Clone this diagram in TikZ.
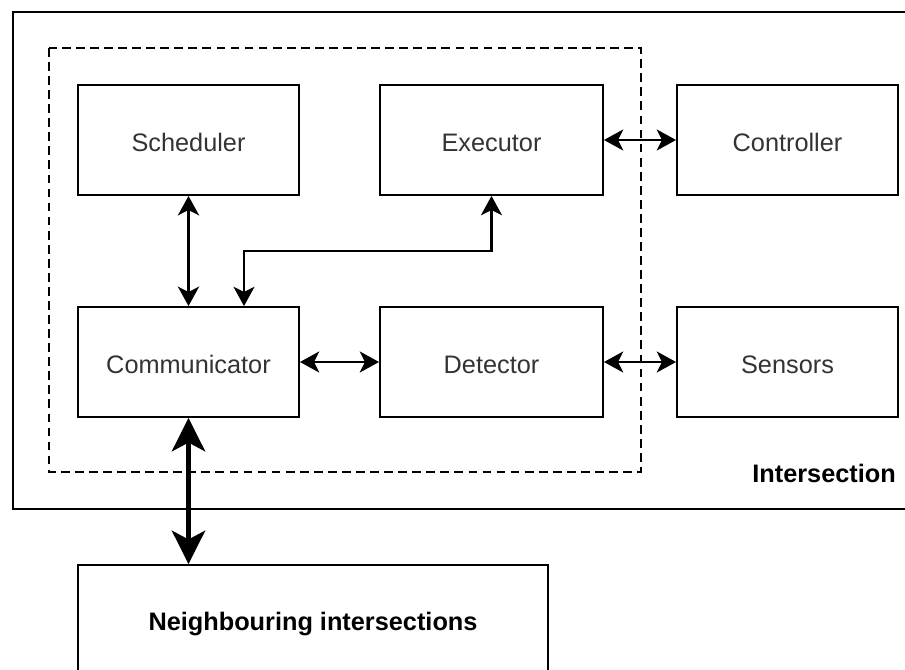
\documentclass[tikz,border=0pt]{standalone}
\usepackage{fontspec}
\setmainfont{Liberation Sans}
\usepackage{tikz}
\usetikzlibrary{shapes,arrows.meta,positioning,calc}

\begin{document}
\begin{tikzpicture}[
    block/.style={draw, line width=1.1pt, minimum width=4.42cm, minimum height=2.2cm,
        text height=13.2pt, text depth=0pt, text=black!80, font=\fontsize{14.4}{17}\selectfont},
    biarrow/.style={line width=1.2pt, {Stealth[length=11pt,width=12pt,inset=3pt]}-{Stealth[length=11pt,width=12pt,inset=3pt]}},
    bigarrow/.style={line width=2.4pt, {Stealth[length=19pt,width=19pt,inset=5pt]}-{Stealth[length=19pt,width=19pt,inset=5pt]}}
]
    \useasboundingbox (0,0) rectangle (18.1,-13.4);
    \clip (0,0) rectangle (18.1,-13.4);

    % Intersection (outer box, runs off the right edge)
    \draw[line width=1.3pt] (0.26,-0.24) rectangle (18.8,-10.18);
    \node[anchor=east, font=\fontsize{14.4}{17}\selectfont\bfseries] (interlabel) at (18.04,-9.46) {Intersection};

    % Controller unit (dashed)
    \draw[line width=1.1pt, dash pattern=on 5pt off 3pt] (0.98,-0.96) rectangle (12.82,-9.44);

    % Inner modules
    \node[block] (sched) at (3.77,-2.8) {Scheduler};
    \node[block, minimum width=4.46cm] (exec) at (9.83,-2.8) {Executor};
    \node[block] (comm) at (3.77,-7.24) {Communicator};
    \node[block, minimum width=4.46cm] (detect) at (9.83,-7.24) {Detector};

    % Outside devices
    \node[block] (ctrl) at (15.75,-2.8) {Controller};
    \node[block] (sens) at (15.75,-7.24) {Sensors};

    % Neighbours (runs off the bottom edge)
    \node[block, minimum width=9.4cm, minimum height=2.14cm, text=black,
        font=\fontsize{14.4}{17}\selectfont\bfseries] (neigh) at (6.26,-12.37) {Neighbouring intersections};

    % Links
    \draw[biarrow, line width=1.7pt] (sched.south) -- (comm.north);
    \draw[biarrow] ([xshift=1.11cm]comm.north) -- ++(0,1.1) -| (exec.south);
    \draw[biarrow] (comm.east) -- (detect.west);
    \draw[biarrow] (exec.east) -- (ctrl.west);
    \draw[biarrow] (detect.east) -- (sens.west);
    \draw[bigarrow] (comm.south) -- (comm.south |- neigh.north);
\end{tikzpicture}
\end{document}
